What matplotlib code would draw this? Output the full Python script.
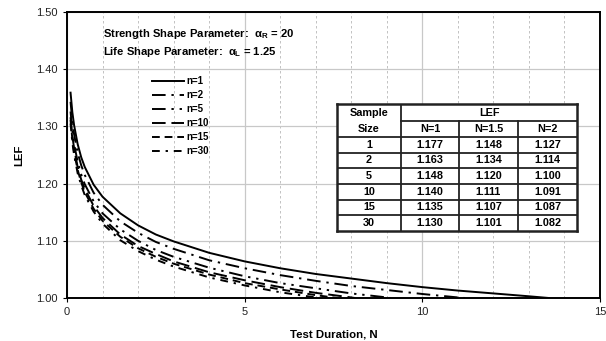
import matplotlib
matplotlib.use("Agg")
import matplotlib.pyplot as plt

plt.rcParams['font.family'] = ['Liberation Sans', 'DejaVu Sans']
plt.rcParams['mathtext.fontset'] = 'custom'
plt.rcParams['mathtext.rm'] = 'Liberation Sans:bold'
plt.rcParams['mathtext.it'] = 'Liberation Sans:bold'
plt.rcParams['mathtext.bf'] = 'Liberation Sans:bold'

# ---- data ----
curve_labels = ["n=1", "n=2", "n=5", "n=10", "n=15", "n=30"]

N_n1 = [0.1, 0.15, 0.2, 0.3, 0.4, 0.5, 0.75, 1, 1.5, 2, 2.5, 3, 4, 5, 6, 7, 8, 9, 10, 11, 12, 13, 13.56]
LEF_n1 = [1.359, 1.325, 1.302, 1.269, 1.246, 1.229, 1.198, 1.177, 1.148, 1.127, 1.111, 1.099, 1.079,
          1.064, 1.052, 1.042, 1.034, 1.026, 1.019, 1.013, 1.008, 1.003, 1.000]

N_n2 = [0.1, 0.15, 0.2, 0.3, 0.4, 0.5, 0.75, 1, 1.5, 2, 2.5, 3, 4, 5, 6, 7, 8, 9, 10, 11, 11.2]
LEF_n2 = [1.343, 1.309, 1.286, 1.254, 1.232, 1.215, 1.184, 1.163, 1.134, 1.114, 1.098, 1.086, 1.066,
          1.052, 1.040, 1.030, 1.021, 1.014, 1.007, 1.001, 1.000]

N_n5 = [0.1, 0.15, 0.2, 0.3, 0.4, 0.5, 0.75, 1, 1.5, 2, 2.5, 3, 4, 5, 6, 7, 8, 9, 9.1]
LEF_n5 = [1.326, 1.293, 1.269, 1.238, 1.216, 1.199, 1.169, 1.148, 1.120, 1.100, 1.084, 1.072, 1.053,
          1.038, 1.026, 1.017, 1.008, 1.001, 1.000]

N_n10 = [0.1, 0.15, 0.2, 0.3, 0.4, 0.5, 0.75, 1, 1.5, 2, 2.5, 3, 4, 5, 6, 7, 8, 8.1]
LEF_n10 = [1.316, 1.284, 1.261, 1.229, 1.207, 1.191, 1.161, 1.140, 1.111, 1.091, 1.077, 1.064, 1.045,
           1.031, 1.019, 1.009, 1.001, 1.000]

N_n15 = [0.1, 0.15, 0.2, 0.3, 0.4, 0.5, 0.75, 1, 1.5, 2, 2.5, 3, 4, 5, 6, 7, 7.6]
LEF_n15 = [1.311, 1.278, 1.255, 1.224, 1.202, 1.185, 1.156, 1.135, 1.107, 1.087, 1.072, 1.060, 1.041,
           1.026, 1.015, 1.005, 1.000]

N_n30 = [0.1, 0.15, 0.2, 0.3, 0.4, 0.5, 0.75, 1, 1.5, 2, 2.5, 3, 4, 5, 6, 7, 7.07]
LEF_n30 = [1.305, 1.272, 1.250, 1.218, 1.197, 1.180, 1.151, 1.130, 1.101, 1.082, 1.067, 1.055, 1.036,
           1.022, 1.010, 1.001, 1.000]

# table
table_sample_sizes = ["1", "2", "5", "10", "15", "30"]
table_N_headers = ["N=1", "N=1.5", "N=2"]
table_lef_N1 = ["1.177", "1.163", "1.148", "1.140", "1.135", "1.130"]
table_lef_N15 = ["1.148", "1.134", "1.120", "1.111", "1.107", "1.101"]
table_lef_N2 = ["1.127", "1.114", "1.100", "1.091", "1.087", "1.082"]

x_ticks = [0, 5, 10, 15]
y_ticks = [1.00, 1.10, 1.20, 1.30, 1.40, 1.50]

# ---- figure ----
W, H = 606, 341
fig = plt.figure(figsize=(W / 100, H / 100), dpi=100)
ax = fig.add_axes([67 / W, 1 - 298 / H, (600 - 67) / W, (298 - 12) / H])

ax.set_xlim(0, 15)
ax.set_ylim(1.0, 1.5)
ax.set_xticks(x_ticks)
ax.set_xticks([v for v in range(1, 15) if v % 5 != 0], minor=True)
ax.set_yticks(y_ticks)
ax.set_yticklabels([f"{v:.2f}" for v in y_ticks])
ax.tick_params(axis='both', which='major', labelsize=8, direction='out', length=3,
               width=0.8, colors='black', labelcolor='#222222')
ax.tick_params(axis='x', which='minor', length=0)
ax.grid(True, which='major', color='#c8c8c8', lw=0.9, ls='-')
ax.grid(True, which='minor', axis='x', color='#b8b8b8', lw=0.6, ls=(0, (3, 3)))
ax.set_axisbelow(True)
for s in ax.spines.values():
    s.set_linewidth(1.4)
    s.set_color('black')

styles = [
    '-',
    (0, (7, 3, 1.2, 3)),
    (0, (7, 3, 1.2, 3, 1.2, 3)),
    (0, (7, 3)),
    (0, (4, 2.5)),
    (0, (4, 3, 1.2, 3)),
]
series = [(N_n1, LEF_n1), (N_n2, LEF_n2), (N_n5, LEF_n5),
          (N_n10, LEF_n10), (N_n15, LEF_n15), (N_n30, LEF_n30)]
for (xs, ys), st, lab in zip(series, styles, curve_labels):
    ax.plot(xs, ys, color='black', lw=1.4, ls=st, label=lab, zorder=3)

leg = ax.legend(loc='upper left', bbox_to_anchor=((152 - 67) / 533, (298 - 76) / 286),
                frameon=False, prop={'size': 7, 'weight': 'bold'},
                handlelength=3.3, handletextpad=0.2, labelspacing=0.42, borderpad=0,
                borderaxespad=0)

ax.set_xlabel("Test Duration, N", fontsize=8.2, fontweight='bold', labelpad=9)
ax.set_ylabel("LEF", fontsize=8.2, fontweight='bold', labelpad=9)

ax.text(1.0, 1.462, r"Strength Shape Parameter:  $\alpha_{R}$ = 20", fontsize=8.1,
        fontweight='bold', va='center', ha='left')
ax.text(1.0, 1.430, r"Life Shape Parameter:  $\alpha_{L}$ = 1.25", fontsize=8.1,
        fontweight='bold', va='center', ha='left')

# ---- table drawn in an inset ----
tx0, ty0, tx1, ty1 = 337, 104, 577, 231
tax = fig.add_axes([tx0 / W, 1 - ty1 / H, (tx1 - tx0) / W, (ty1 - ty0) / H])
tw, th = tx1 - tx0, ty1 - ty0
tax.set_xlim(0, tw)
tax.set_ylim(th, 0)
tax.set_facecolor('white')
tax.set_xticks([])
tax.set_yticks([])
for s in tax.spines.values():
    s.set_linewidth(1.8)
    s.set_color('#222222')

col_edges = [0, 64, 122, 181, tw]
row_h = (th - 33) / 6
row_edges = [33 + row_h * k for k in range(7)]
lc = '#222222'
tax.plot([col_edges[1]] * 2, [0, th], color=lc, lw=1.3)
for c in col_edges[2:4]:
    tax.plot([c, c], [17, th], color=lc, lw=1.3)
tax.plot([col_edges[1], tw], [17, 17], color=lc, lw=1.3)
for r in row_edges[:-1]:
    tax.plot([0, tw], [r, r], color=lc, lw=1.3)

tfs = 7.8
tax.text(col_edges[0] + 32, 9, "Sample", ha='center', va='center', fontsize=tfs, fontweight='bold')
tax.text(col_edges[0] + 32, 25, "Size", ha='center', va='center', fontsize=tfs, fontweight='bold')
tax.text((col_edges[1] + tw) / 2, 9, "LEF", ha='center', va='center', fontsize=tfs, fontweight='bold')
for i, hdr in enumerate(table_N_headers):
    tax.text((col_edges[i + 1] + col_edges[i + 2]) / 2, 25, hdr, ha='center', va='center',
             fontsize=tfs, fontweight='bold')
cols = [table_sample_sizes, table_lef_N1, table_lef_N15, table_lef_N2]
for ci, col in enumerate(cols):
    xc = (col_edges[ci] + col_edges[ci + 1]) / 2
    for ri, val in enumerate(col):
        yc = (row_edges[ri] + row_edges[ri + 1]) / 2
        tax.text(xc, yc, val, ha='center', va='center', fontsize=tfs, fontweight='bold')

fig.savefig("out.png", dpi=100)
